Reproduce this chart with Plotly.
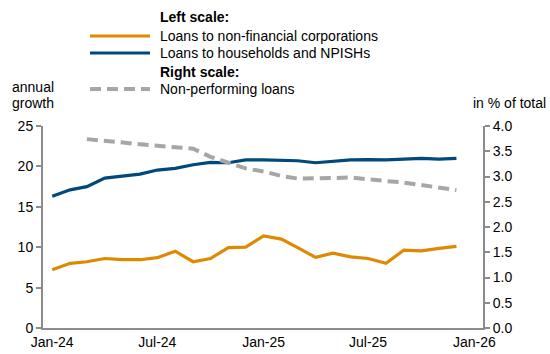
import plotly.graph_objects as go

months = ["2024-01-01", "2024-02-01", "2024-03-01", "2024-04-01", "2024-05-01", "2024-06-01",
          "2024-07-01", "2024-08-01", "2024-09-01", "2024-10-01", "2024-11-01", "2024-12-01",
          "2025-01-01", "2025-02-01", "2025-03-01", "2025-04-01", "2025-05-01", "2025-06-01",
          "2025-07-01", "2025-08-01", "2025-09-01", "2025-10-01", "2025-11-01", "2025-12-01"]

nfc = [7.2, 8.0, 8.2, 8.6, 8.45, 8.45, 8.7, 9.5, 8.2, 8.6, 9.95, 10.0,
       11.4, 11.0, 9.95, 8.75, 9.25, 8.8, 8.6, 8.0, 9.65, 9.55, 9.85, 10.1]
households = [16.3, 17.1, 17.5, 18.55, 18.8, 19.05, 19.55, 19.75, 20.2, 20.5, 20.45, 20.8,
              20.8, 20.7, 20.7, 20.45, 20.65, 20.8, 20.85, 20.8, 20.9, 21.0, 20.9, 21.0]
npl = [None, None, 3.74, 3.70, 3.68, 3.64, 3.61, 3.58, 3.55, 3.39, 3.28, 3.16,
       3.10, 3.01, 2.96, 2.96, 2.97, 2.98, 2.94, 2.91, 2.88, 2.83, 2.78, 2.73]

name_left = "<b>Left scale:</b>"
name_nfc = "Loans to non-financial corporations"
name_hh = "Loans to households and NPISHs"
name_right = "<b>Right scale:</b>"
name_npl = "Non-performing loans"
left_ticks = [0, 5, 10, 15, 20, 25]
right_ticks = [0.0, 0.5, 1.0, 1.5, 2.0, 2.5, 3.0, 3.5, 4.0]

ORANGE = "#DE8A00"
BLUE = "#00497A"
GREY = "#A6A6A6"
AXIS = "#8C8C8C"
FONT = "Liberation Sans, Arial, sans-serif"

fig = go.Figure()
fig.add_trace(go.Scatter(x=months, y=nfc, mode="lines", name=name_nfc,
                         line=dict(color=ORANGE, width=3.2)))
fig.add_trace(go.Scatter(x=months, y=households, mode="lines", name=name_hh,
                         line=dict(color=BLUE, width=3.2)))
fig.add_trace(go.Scatter(x=months, y=npl, mode="lines", name=name_npl, yaxis="y2",
                         line=dict(color=GREY, width=4, dash="11px,6px")))

# Legend (drawn manually to match the reference layout)
rows = [(name_left, 1.5396, None), (name_nfc, 1.4455, dict(color=ORANGE, width=3.2)),
        (name_hh, 1.3614, dict(color=BLUE, width=3.2)), (name_right, 1.2673, None),
        (name_npl, 1.1832, dict(color=GREY, width=4, dash="11px,6px"))]
annotations = []
shapes = []
for text, yy, ln in rows:
    annotations.append(dict(text=text, xref="paper", yref="paper", x=0.2614, y=yy,
                            xanchor="left", yanchor="middle", showarrow=False,
                            font=dict(size=14)))
    if ln is not None:
        shapes.append(dict(type="line", xref="paper", yref="paper", x0=0.1068, x1=0.2432,
                           y0=yy, y1=yy, line=ln))

annotations += [
    dict(text="annual", xref="paper", yref="paper", x=-0.0227, y=1.193,
         xanchor="center", yanchor="middle", showarrow=False, font=dict(size=14)),
    dict(text="growth", xref="paper", yref="paper", x=-0.0227, y=1.114,
         xanchor="center", yanchor="middle", showarrow=False, font=dict(size=14)),
    dict(text="in % of total", xref="paper", yref="paper", x=1.1477, y=1.114,
         xanchor="right", yanchor="middle", showarrow=False, font=dict(size=14)),
]

fig.update_layout(
    width=550, height=354,
    margin=dict(l=43, r=67, t=126, b=26),
    plot_bgcolor="white", paper_bgcolor="white",
    font=dict(family=FONT, size=14, color="#000000"),
    showlegend=False,
    xaxis=dict(type="date", range=["2023-12-16", "2026-01-16"],
               dtick="M6", tick0="2024-01-01", tickformat="%b-%y", automargin=False,
               showgrid=False, zeroline=False, showline=True, linecolor=AXIS, linewidth=2,
               ticks="", tickfont=dict(size=14)),
    yaxis=dict(range=[0, 25], tickvals=left_ticks, showgrid=False, zeroline=False,
               automargin=False,
               showline=True, linecolor=AXIS, linewidth=2, ticks="outside",
               ticklen=5, tickcolor=AXIS, tickwidth=1.5, tickfont=dict(size=14)),
    yaxis2=dict(range=[0, 4], tickvals=right_ticks, tickformat=".1f", overlaying="y",
                side="right", showgrid=False, zeroline=False, showline=True, automargin=False,
                linecolor=AXIS, linewidth=2, ticks="outside", ticklen=5,
                tickcolor=AXIS, tickwidth=1.5, tickfont=dict(size=14)),
    annotations=annotations,
    shapes=shapes,
)

fig.write_html("out.html")
